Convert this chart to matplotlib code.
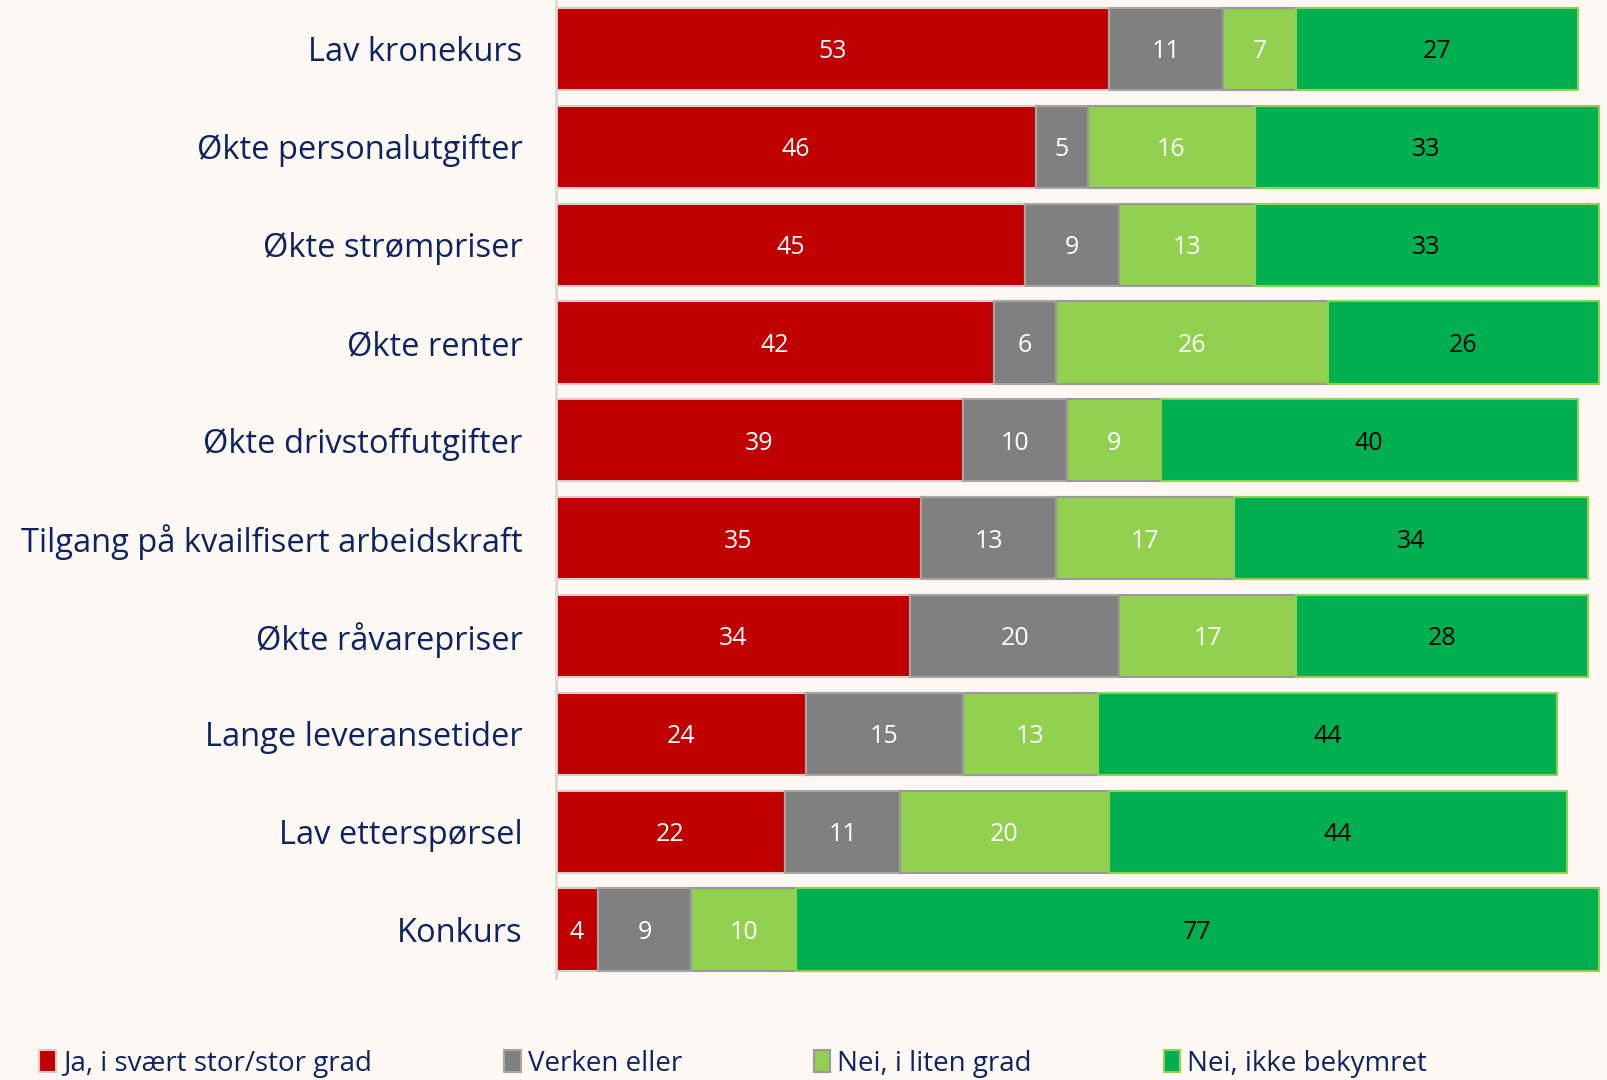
import numpy as np
import matplotlib.pyplot as plt
from matplotlib.patches import Patch

categories = ['Lav kronekurs', 'Økte personalutgifter', 'Økte strømpriser', 'Økte renter',
              'Økte drivstoffutgifter', 'Tilgang på kvailfisert arbeidskraft', 'Økte råvarepriser',
              'Lange leveransetider', 'Lav etterspørsel', 'Konkurs']
ja_stor = [53, 46, 45, 42, 39, 35, 34, 24, 22, 4]
verken = [11, 5, 9, 6, 10, 13, 20, 15, 11, 9]
nei_liten = [7, 16, 13, 26, 9, 17, 17, 13, 20, 10]
nei_ikke = [27, 33, 33, 26, 40, 34, 28, 44, 44, 77]
series_names = ['Ja, i svært stor/stor grad', 'Verken eller', 'Nei, i liten grad', 'Nei, ikke bekymret']

bg = '#FDF8F4'
navy = '#0E2460'
fills = ['#C00000', '#808080', '#92D050', '#00B050']
edges = ['#E0C8C8', '#A6A6A6', '#9A9A9A', '#92D050']
txt_col = ['white', 'white', 'white', 'black']

plt.rcParams['font.family'] = ['Open Sans', 'DejaVu Sans']

fig = plt.figure(figsize=(16.08, 10.80), dpi=100, facecolor=bg)
ax = fig.add_axes([0.3457, 0.094, 0.6543, 0.906])
ax.set_facecolor(bg)

y = np.arange(len(categories))
left = np.zeros(len(categories))
for vals, fc, ec, tc in zip([ja_stor, verken, nei_liten, nei_ikke], fills, edges, txt_col):
    vals = np.array(vals, dtype=float)
    ax.barh(y, vals, left=left, height=0.84, color=fc, edgecolor=ec, linewidth=1.5)
    for yi, l, v in zip(y, left, vals):
        ax.text(l + v / 2, yi + 0.03, f'{int(v)}', ha='center', va='center', color=tc, fontsize=18)
    left += vals

ax.set_xlim(0, 100.9)
ax.set_ylim(9.5, -0.5)
ax.set_xticks([])
ax.set_yticks(y)
ax.set_yticklabels(categories, fontsize=23.5, color=navy)
ax.tick_params(axis='y', length=0, pad=24)
for s in ['top', 'right', 'bottom']:
    ax.spines[s].set_visible(False)
ax.spines['left'].set_color('#D9D9D9')
ax.spines['left'].set_linewidth(2)

handles = [Patch(facecolor=fc, edgecolor=ec, linewidth=1.5) for fc, ec in zip(fills, edges)]
leg = fig.legend(handles, series_names, loc='lower left', bbox_to_anchor=(0.009, -0.021), ncol=4,
                 frameon=False, fontsize=20, handlelength=0.6, handleheight=0.85, handletextpad=0.25,
                 columnspacing=4.75, labelcolor=navy)

fig.savefig('out.png', dpi=100, facecolor=bg)
